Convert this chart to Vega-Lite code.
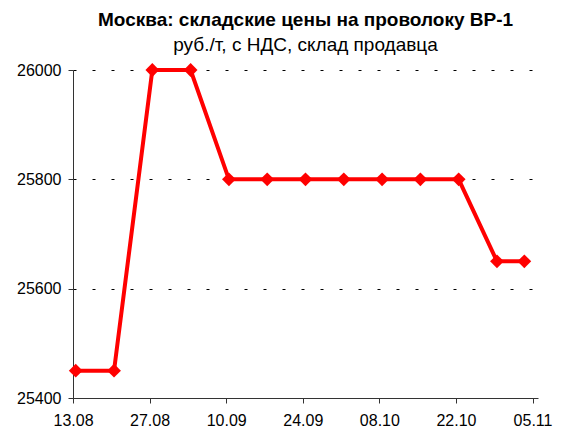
{
  "$schema": "https://vega.github.io/schema/vega-lite/v6.json",
  "width": 465,
  "height": 328,
  "autosize": "none",
  "padding": {"left": 73, "top": 70, "right": 32, "bottom": 32},
  "background": "white",
  "title": {
    "text": "Москва: складские цены на проволоку ВР-1",
    "subtitle": "руб./т, с НДС, склад продавца",
    "anchor": "middle",
    "font": "Liberation Sans",
    "fontSize": 19,
    "fontWeight": "bold",
    "color": "#000",
    "subtitleFont": "Liberation Sans",
    "subtitleFontSize": 19,
    "subtitleColor": "#000",
    "subtitlePadding": 6,
    "offset": 7
  },
  "data": {
    "values": [
      {"date": "2007-08-13T12:00:00Z", "price": 25450},
      {"date": "2007-08-20T12:00:00Z", "price": 25450},
      {"date": "2007-08-27T12:00:00Z", "price": 26000},
      {"date": "2007-09-03T12:00:00Z", "price": 26000},
      {"date": "2007-09-10T12:00:00Z", "price": 25800},
      {"date": "2007-09-17T12:00:00Z", "price": 25800},
      {"date": "2007-09-24T12:00:00Z", "price": 25800},
      {"date": "2007-10-01T12:00:00Z", "price": 25800},
      {"date": "2007-10-08T12:00:00Z", "price": 25800},
      {"date": "2007-10-15T12:00:00Z", "price": 25800},
      {"date": "2007-10-22T12:00:00Z", "price": 25800},
      {"date": "2007-10-29T12:00:00Z", "price": 25650},
      {"date": "2007-11-03T12:00:00Z", "price": 25650}
    ]
  },
  "encoding": {
    "x": {
      "field": "date",
      "type": "temporal",
      "scale": {
        "type": "utc",
        "domain": [
          {"year": 2007, "month": 8, "date": 13, "utc": true},
          {"year": 2007, "month": 11, "date": 6, "utc": true}
        ]
      },
      "axis": {
        "title": null,
        "format": "%d.%m",
        "values": [
          {"year": 2007, "month": 8, "date": 13, "utc": true},
          {"year": 2007, "month": 8, "date": 27, "utc": true},
          {"year": 2007, "month": 9, "date": 10, "utc": true},
          {"year": 2007, "month": 9, "date": 24, "utc": true},
          {"year": 2007, "month": 10, "date": 8, "utc": true},
          {"year": 2007, "month": 10, "date": 22, "utc": true},
          {"year": 2007, "month": 11, "date": 5, "utc": true}
        ],
        "grid": false,
        "domainColor": "#333",
        "tickColor": "#333",
        "tickSize": 5,
        "labelFont": "Liberation Sans",
        "labelFontSize": 16,
        "labelColor": "#000",
        "labelPadding": 9,
        "labelFlush": false,
        "labelOverlap": false
      }
    },
    "y": {
      "field": "price",
      "type": "quantitative",
      "scale": {"domain": [25400, 26000], "zero": false, "nice": false},
      "axis": {
        "title": null,
        "values": [25400, 25600, 25800, 26000],
        "format": "d",
        "grid": true,
        "gridColor": "#000",
        "gridDash": [3, 16],
        "gridWidth": 1,
        "domainColor": "#333",
        "tickColor": "#333",
        "tickSize": 5,
        "labelFont": "Liberation Sans",
        "labelFontSize": 16,
        "labelColor": "#000",
        "labelPadding": 7
      }
    }
  },
  "layer": [
    {"mark": {"type": "line", "color": "#FF0000", "strokeWidth": 4}},
    {"mark": {"type": "point", "shape": "diamond", "filled": true, "color": "#FF0000", "size": 190, "opacity": 1}}
  ],
  "config": {"view": {"stroke": null}}
}
